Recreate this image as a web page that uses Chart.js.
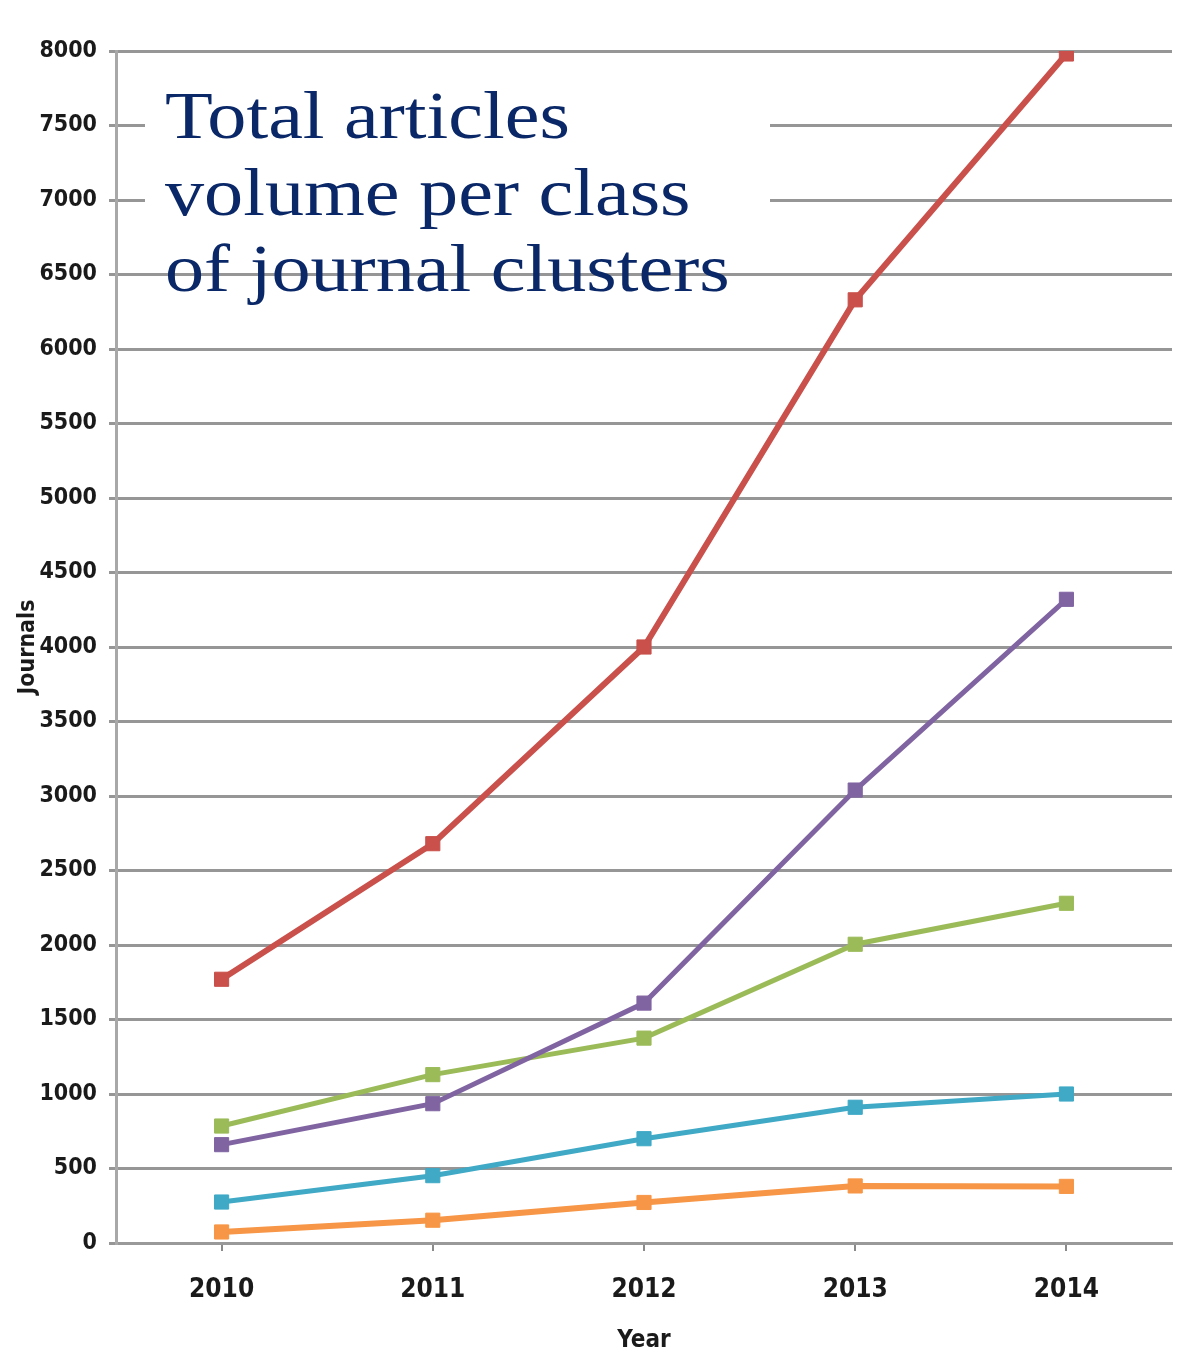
<!DOCTYPE html>
<html>
<head>
<meta charset="utf-8">
<script src="https://cdn.jsdelivr.net/npm/chart.js@4/dist/chart.umd.min.js"></script>
<style>
  html, body { margin: 0; padding: 0; background: #ffffff; }
  #wrap { width: 1183px; height: 1355px; position: relative; }
</style>
</head>
<body>
<div id="wrap"><canvas id="c" width="1183" height="1355"></canvas></div>
<script>
const years = ['2010', '2011', '2012', '2013', '2014'];
const redSeries = [1770, 2680, 4000, 6330, 7980];
const purpleSeries = [660, 935, 1610, 3040, 4320];
const greenSeries = [785, 1130, 1375, 2005, 2280];
const cyanSeries = [275, 452, 700, 911, 1000];
const orangeSeries = [74, 153, 272, 383, 380];
const yTicks = [0, 500, 1000, 1500, 2000, 2500, 3000, 3500, 4000, 4500, 5000, 5500, 6000, 6500, 7000, 7500, 8000];
const titleLines = ['Total articles', 'volume per class', 'of journal clusters'];

const tickFont = '"Liberation Sans Narrow", "DejaVu Sans Condensed", "Liberation Sans", sans-serif';

function ds(label, data, color, width) {
  return {
    label, data,
    borderColor: color, backgroundColor: color,
    borderWidth: width,
    pointStyle: 'rect', pointRadius: 10, pointHoverRadius: 10,
    pointBackgroundColor: color, pointBorderColor: color, pointBorderWidth: 1,
    tension: 0
  };
}

const titlePlugin = {
  id: 'titleBox',
  beforeDatasetsDraw(chart) {
    const ctx = chart.ctx;
    ctx.save();
    ctx.fillStyle = '#ffffff';
    ctx.fillRect(145, 62, 625, 186);
    ctx.restore();
  },
  afterDraw(chart) {
    const ctx = chart.ctx;
    ctx.save();
    ctx.fillStyle = '#0a2868';
    ctx.font = '68px "Liberation Serif", "DejaVu Serif", serif';
    ctx.textBaseline = 'alphabetic';
    const baselines = [138, 215, 291];
    titleLines.forEach((t, i) => {
      ctx.save();
      ctx.translate(165, baselines[i]);
      ctx.scale(1.15, 1);
      ctx.fillText(t, 0, 0);
      ctx.restore();
    });
    ctx.restore();
  }
};

new Chart(document.getElementById('c'), {
  type: 'line',
  data: {
    labels: years,
    datasets: [
      ds('Red', redSeries, '#c9504b', 6),
      ds('Purple', purpleSeries, '#8064a2', 5),
      ds('Green', greenSeries, '#9bbb59', 5),
      ds('Cyan', cyanSeries, '#3fa9c6', 5),
      ds('Orange', orangeSeries, '#f79646', 6)
    ]
  },
  options: {
    responsive: false,
    animation: false,
    devicePixelRatio: 1,
    layout: { padding: { top: 51, right: 10, bottom: 0, left: 0 } },
    plugins: { legend: { display: false }, tooltip: { enabled: false }, title: { display: false } },
    scales: {
      x: {
        type: 'category',
        offset: true,
        grid: { display: true, drawOnChartArea: false, offset: false, color: '#8a8a8a', lineWidth: 2, tickLength: 8 },
        border: { display: true, color: '#999999', width: 3 },
        ticks: { color: '#1a1a1a', font: { family: tickFont, size: 26, weight: 'bold' }, padding: 24 },
        title: { display: true, text: 'Year', color: '#1a1a1a', font: { family: tickFont, size: 24, weight: 'bold' }, padding: { top: 0, bottom: 0 } },
        afterFit(s) { s.height = 112; }
      },
      y: {
        min: 0, max: 8000,
        afterBuildTicks(s) { s.ticks = yTicks.map(v => ({ value: v })); },
        grid: { color: '#969696', lineWidth: 3, tickLength: 7 },
        border: { display: true, color: '#a8a8a8', width: 3 },
        ticks: { color: '#1a1a1a', font: { family: tickFont, size: 23, weight: 'bold' }, padding: 12, callback: v => String(v) },
        title: { display: true, text: 'Journals', color: '#1a1a1a', font: { family: tickFont, size: 23, weight: 'bold' }, padding: { top: 14, bottom: 0 } },
        afterFit(s) { s.width = 116; }
      }
    }
  },
  plugins: [titlePlugin]
});
</script>
</body>
</html>
